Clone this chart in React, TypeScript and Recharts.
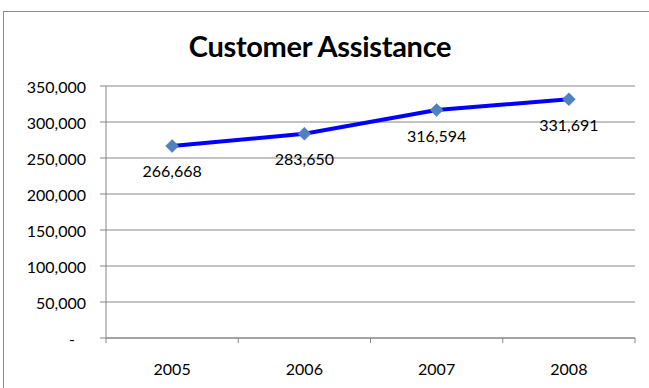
import { LineChart, Line, XAxis, YAxis, CartesianGrid, LabelList } from 'recharts';

const years = ['2005', '2006', '2007', '2008'];
const assistance = [266668, 283650, 316594, 331691];
const yTicks = [0, 50000, 100000, 150000, 200000, 250000, 300000, 350000];
// whole numbers are the category boundaries (tick marks), halves are the category centres (labels)
const xTicks = [0, 0.5, 1, 1.5, 2, 2.5, 3, 3.5, 4];

const chartData = years.map((year, i) => ({ pos: i + 0.5, year, value: assistance[i] }));

const FONT = 'Lato, "Open Sans", sans-serif';
const AXIS = '#868686';

const fmt = (v: number) => (v === 0 ? '-' : v.toLocaleString('en-US'));

function YTick({ x, y, payload }: any) {
  const v = payload.value;
  return (
    <text
      x={v === 0 ? x - 11 : x}
      y={y}
      textAnchor="end"
      dominantBaseline="central"
      fontFamily={FONT}
      fontSize={16}
      fill="#000"
    >
      {fmt(v)}
    </text>
  );
}

function XTick({ x, y, payload }: any) {
  const v = payload.value;
  if (Number.isInteger(v)) {
    return <line x1={x} y1={y} x2={x} y2={y + 5} stroke={AXIS} />;
  }
  return (
    <text x={x} y={y + 30} textAnchor="middle" dominantBaseline="central" fontFamily={FONT} fontSize={16} fill="#000">
      {years[Math.floor(v)]}
    </text>
  );
}

function Diamond({ cx, cy }: any) {
  if (cx == null || cy == null) return null;
  return (
    <polygon
      points={`${cx},${cy - 6.5} ${cx + 6.5},${cy} ${cx},${cy + 6.5} ${cx - 6.5},${cy}`}
      fill="#4F81BD"
      stroke="#4A7EBB"
      strokeWidth={0.5}
    />
  );
}

function ValueLabel({ x, y, value }: any) {
  return (
    <text x={x} y={y + 25} textAnchor="middle" dominantBaseline="central" fontFamily={FONT} fontSize={16} fill="#000">
      {fmt(value)}
    </text>
  );
}

export default function App() {
  return (
    <div style={{ position: 'absolute', left: 0, top: 0, width: 649, height: 388, overflow: 'hidden', background: '#fff' }}>
      <div
        style={{
          position: 'absolute',
          left: 3,
          top: 11,
          width: 720,
          height: 480,
          border: '1px solid #8c8c8c',
        }}
      />
      <div
        style={{
          position: 'absolute',
          left: 0,
          width: 640,
          top: 29,
          textAlign: 'center',
          fontFamily: FONT,
          fontWeight: 700,
          fontSize: 29,
          lineHeight: '34px',
          letterSpacing: -0.3,
          color: '#000',
        }}
      >
        Customer Assistance
      </div>
      <div style={{ position: 'absolute', left: 0, top: 0 }}>
        <LineChart width={649} height={388} data={chartData} margin={{ top: 86, right: 14, bottom: 0, left: 0 }}>
          <CartesianGrid horizontal vertical={false} stroke={AXIS} />
          <XAxis
            dataKey="pos"
            type="number"
            domain={[0, 4]}
            ticks={xTicks}
            interval={0}
            height={50}
            stroke={AXIS}
            tickLine={false}
            tickSize={0}
            tickMargin={0}
            tick={<XTick />}
          />
          <YAxis
            type="number"
            domain={[0, 350000]}
            ticks={yTicks}
            interval={0}
            width={106}
            stroke={AXIS}
            tickSize={6}
            tickMargin={14}
            tick={<YTick />}
          />
          <Line
            dataKey="value"
            stroke="#0000FF"
            strokeWidth={4}
            dot={<Diamond />}
            activeDot={false}
            isAnimationActive={false}
          >
            <LabelList dataKey="value" content={<ValueLabel />} />
          </Line>
        </LineChart>
      </div>
    </div>
  );
}
